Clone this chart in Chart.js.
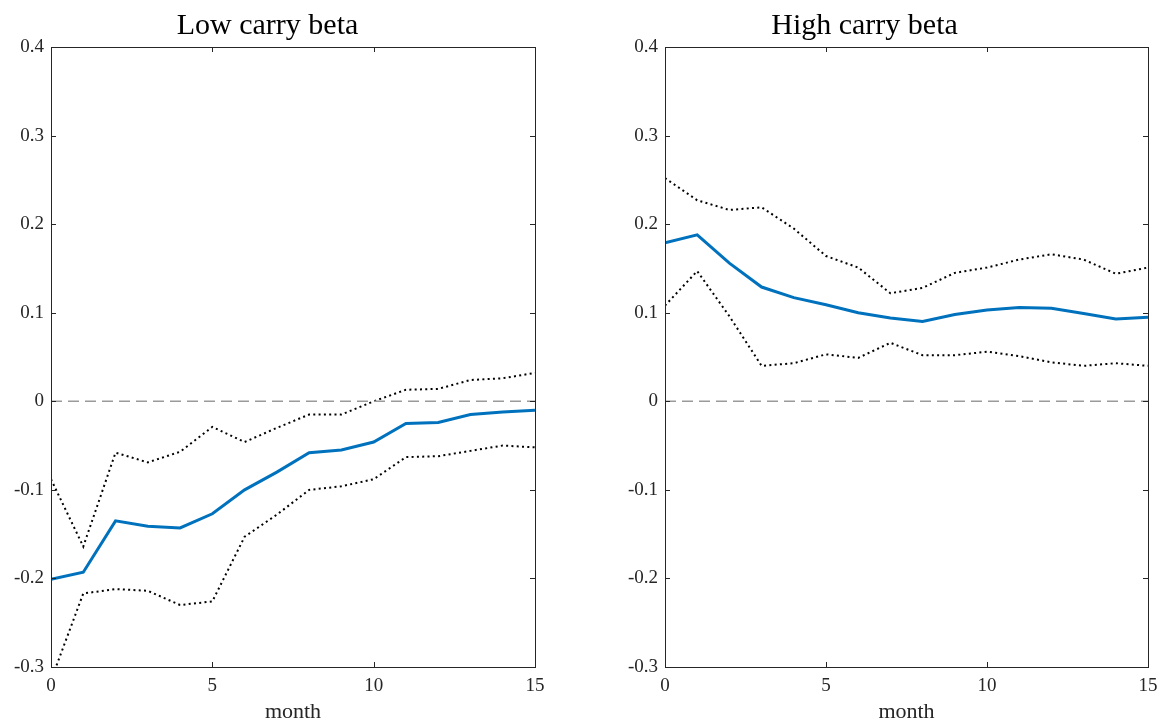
<!DOCTYPE html>
<html>
<head>
<meta charset="utf-8">
<script src="https://cdn.jsdelivr.net/npm/chart.js@4/dist/chart.umd.min.js"></script>
<style>
  body { margin: 0; background: #fff; }
  .panel { position: absolute; top: 0; width: 581px; height: 725px; }
</style>
</head>
<body>
<div class="panel" style="left:0"><canvas id="lowChart" width="581" height="725"></canvas></div>
<div class="panel" style="left:581px"><canvas id="highChart" width="581" height="725"></canvas></div>
<script>
// Impulse responses by month
const months = [0, 1, 2, 3, 4, 5, 6, 7, 8, 9, 10, 11, 12, 13, 14, 15];

const lowMid   = [-0.201, -0.193, -0.135, -0.141, -0.143, -0.127, -0.100, -0.080, -0.058, -0.055, -0.046, -0.025, -0.024, -0.015, -0.012, -0.010];
const lowUpper = [-0.088, -0.164, -0.058, -0.069, -0.057, -0.029, -0.046, -0.030, -0.015, -0.015, 0.000, 0.013, 0.014, 0.024, 0.026, 0.032];
const lowLower = [-0.315, -0.217, -0.212, -0.214, -0.230, -0.226, -0.153, -0.128, -0.100, -0.096, -0.088, -0.063, -0.062, -0.056, -0.050, -0.052];

const highMid   = [0.179, 0.188, 0.156, 0.129, 0.117, 0.109, 0.100, 0.094, 0.090, 0.098, 0.103, 0.106, 0.105, 0.099, 0.093, 0.095];
const highUpper = [0.252, 0.227, 0.216, 0.219, 0.195, 0.164, 0.151, 0.122, 0.128, 0.145, 0.151, 0.160, 0.166, 0.160, 0.144, 0.151];
const highLower = [0.108, 0.147, 0.096, 0.040, 0.043, 0.053, 0.049, 0.066, 0.052, 0.052, 0.056, 0.051, 0.044, 0.040, 0.043, 0.040];

const zeroLine = [{x: 0, y: 0}, {x: 15, y: 0}];

const xTicks = [0, 5, 10, 15];
const yTicks = [-0.3, -0.2, -0.1, 0, 0.1, 0.2, 0.3, 0.4];
const yTickLabels = ['-0.3', '-0.2', '-0.1', '0', '0.1', '0.2', '0.3', '0.4'];

const FONT = '"Liberation Serif", "Times New Roman", serif';
const INK = '#262626';

// box around the plot area with inward ticks on all four sides
const boxPlugin = {
    id: 'box',
    afterDatasetsDraw(chart) {
        const { ctx, chartArea: a, scales: { x, y } } = chart;
        ctx.save();
        ctx.strokeStyle = INK;
        ctx.lineWidth = 1;
        ctx.strokeRect(Math.round(a.left) + 0.5, Math.round(a.top) + 0.5,
            Math.round(a.right - a.left), Math.round(a.bottom - a.top));
        ctx.beginPath();
        x.ticks.forEach(t => {
            const px = Math.round(x.getPixelForValue(t.value)) + 0.5;
            ctx.moveTo(px, a.bottom); ctx.lineTo(px, a.bottom - 5);
            ctx.moveTo(px, a.top); ctx.lineTo(px, a.top + 5);
        });
        y.ticks.forEach(t => {
            const py = Math.round(y.getPixelForValue(t.value)) + 0.5;
            ctx.moveTo(a.left, py); ctx.lineTo(a.left + 5, py);
            ctx.moveTo(a.right, py); ctx.lineTo(a.right - 5, py);
        });
        ctx.stroke();
        ctx.restore();
    }
};

function pts(values) {
    return months.map((m, i) => ({ x: m, y: values[i] }));
}

function makeChart(id, title, mid, upper, lower, yWidth, rightPad) {
    new Chart(document.getElementById(id).getContext('2d'), {
        type: 'line',
        data: {
            datasets: [
                {
                    data: zeroLine,
                    borderColor: '#9a9a9a',
                    borderWidth: 1.5,
                    borderDash: [11, 6],
                    pointRadius: 0,
                    clip: 0
                },
                {
                    data: pts(mid),
                    borderColor: '#0072BD',
                    borderWidth: 3,
                    pointRadius: 0,
                    clip: 0
                },
                {
                    data: pts(upper),
                    borderColor: '#000',
                    borderWidth: 2,
                    borderDash: [2, 3.3],
                    pointRadius: 0,
                    clip: 0
                },
                {
                    data: pts(lower),
                    borderColor: '#000',
                    borderWidth: 2,
                    borderDash: [2, 3.3],
                    pointRadius: 0,
                    clip: 0
                }
            ]
        },
        options: {
            responsive: false,
            animation: false,
            devicePixelRatio: 1,
            layout: { padding: { left: 0, right: rightPad, top: 0, bottom: 0 } },
            plugins: {
                legend: { display: false },
                tooltip: { enabled: false },
                title: {
                    display: true,
                    text: title,
                    color: '#000',
                    font: { family: FONT, size: 30, weight: 'normal' },
                    padding: { top: 8, bottom: 3 }
                }
            },
            scales: {
                x: {
                    type: 'linear',
                    min: 0,
                    max: 15,
                    afterBuildTicks: s => { s.ticks = xTicks.map(v => ({ value: v })); },
                    afterFit: s => { s.height = 58; s.paddingLeft = 0; s.paddingRight = 0; },
                    grid: { display: false, drawTicks: false },
                    border: { display: false },
                    ticks: {
                        color: INK,
                        font: { family: FONT, size: 19 },
                        padding: 8,
                        maxRotation: 0
                    },
                    title: {
                        display: true,
                        text: 'month',
                        color: INK,
                        font: { family: FONT, size: 22 },
                        padding: { top: 0, bottom: 0 }
                    }
                },
                y: {
                    type: 'linear',
                    min: -0.3,
                    max: 0.4,
                    afterBuildTicks: s => { s.ticks = yTicks.map(v => ({ value: v })); },
                    afterFit: s => { s.width = yWidth; },
                    grid: { display: false, drawTicks: false },
                    border: { display: false },
                    ticks: {
                        color: INK,
                        font: { family: FONT, size: 19 },
                        padding: 7,
                        callback: (v, i) => yTickLabels[i]
                    }
                }
            }
        },
        plugins: [boxPlugin]
    });
}

makeChart('lowChart', 'Low carry beta', lowMid, lowUpper, lowLower, 51, 46);
makeChart('highChart', 'High carry beta', highMid, highUpper, highLower, 84, 14);
</script>
</body>
</html>
